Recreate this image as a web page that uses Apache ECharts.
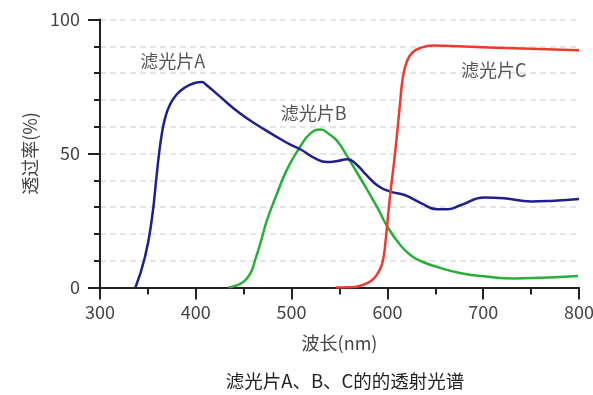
<!DOCTYPE html>
<html>
<head>
<meta charset="utf-8">
<script src="https://cdn.jsdelivr.net/npm/echarts@6/dist/echarts.min.js"></script>
<style>
  html, body { margin: 0; padding: 0; background: #fff; }
  #chart { width: 593px; height: 395px; }
</style>
</head>
<body>
<div id="chart"></div>
<script>
// Transmission spectra of filters A, B and C (wavelength in nm, transmittance in %)
const filterA_nm = [337, 347, 354, 359, 361.5, 364.4, 368, 373, 380, 389, 399, 406, 412, 425, 446, 467, 495, 510, 524, 537, 548, 558, 568, 578, 590, 603, 618, 635, 652, 662, 677, 701, 722, 750, 774, 800];
const filterA_T  = [0, 11.5, 25.2, 41.4, 49.5, 57, 63.3, 68.2, 72, 74.7, 76.3, 76.7, 75.3, 71.3, 65, 60, 54, 51.4, 48.3, 46.8, 47.2, 47.9, 45.8, 42, 38, 35.8, 34.5, 31.5, 29.2, 29.2, 30.8, 33.6, 33.3, 32.1, 32.4, 33];

const filterB_nm = [434, 441, 450, 457, 462, 467.4, 474.4, 484, 495, 509, 520, 530, 540, 548, 558, 568, 579, 590, 600, 612, 624, 636, 649, 677, 705, 732, 760, 780, 799];
const filterB_T  = [0, 0.6, 2.2, 5.3, 10.3, 16.5, 25.2, 34.3, 43.9, 52.6, 57.6, 59, 57, 54.5, 49, 43, 36.4, 29.5, 22.7, 16.5, 12.1, 9.7, 8, 5.3, 4, 3.4, 3.6, 3.9, 4.3];

const filterC_nm = [546, 560, 570, 580, 586, 591, 595, 598, 601, 604, 607, 610, 613, 616, 620, 626, 635, 648, 680, 732, 800];
const filterC_T  = [0, 0.1, 0.5, 1.8, 3.4, 6, 9.5, 17, 28, 38, 47, 57, 68, 78, 84, 87.6, 89.5, 90.3, 89.9, 89.3, 88.5];

// Curve name labels, anchored in data coordinates
const labelNames = ['滤光片A', '滤光片B', '滤光片C'];
const labelCoords = [[376, 84.3], [523, 65.2], [711, 81]];

const xTicks = { min: 300, max: 800, interval: 100 };
const yTicks = { min: 0, max: 100, interval: 50 };

const FONT = '"Noto Sans CJK SC", "Noto Sans", sans-serif';
const pair = (xs, ys) => xs.map((x, i) => [x, ys[i]]);

function nameMark(i) {
  return {
    symbol: 'circle',
    symbolSize: 0,
    silent: true,
    label: {
      show: true,
      position: 'inside',
      formatter: labelNames[i],
      color: '#555',
      fontSize: 18,
      fontFamily: FONT
    },
    data: [{ coord: labelCoords[i] }]
  };
}

const chart = echarts.init(document.getElementById('chart'));
chart.setOption({
  animation: false,
  backgroundColor: '#fff',
  title: {
    text: '滤光片A、B、C的的透射光谱',
    left: 340,
    textAlign: 'center',
    top: 367,
    textStyle: { fontSize: 18.5, fontWeight: 'normal', color: '#222', fontFamily: FONT }
  },
  grid: { left: 100, right: 14, top: 19.5, bottom: 107.5, outerBoundsMode: 'none', containLabel: false },
  xAxis: {
    type: 'value',
    min: xTicks.min, max: xTicks.max, interval: xTicks.interval,
    name: '波长(nm)',
    nameLocation: 'middle',
    nameGap: 47,
    nameTextStyle: { fontSize: 18, color: '#444', fontFamily: FONT },
    axisLine: { show: true, onZero: false, lineStyle: { color: '#222', width: 2 } },
    axisTick: { show: true, length: 12, lineStyle: { color: '#222', width: 2 } },
    minorTick: { show: true, splitNumber: 2, length: 7, lineStyle: { color: '#222', width: 2 } },
    axisLabel: { margin: 16, fontSize: 18, color: '#444', fontFamily: FONT },
    splitLine: { show: false }
  },
  yAxis: {
    type: 'value',
    min: yTicks.min, max: yTicks.max, interval: yTicks.interval,
    name: '透过率(%)',
    nameLocation: 'middle',
    nameRotate: 90,
    nameGap: 58,
    nameTextStyle: { fontSize: 18, color: '#444', fontFamily: FONT },
    axisLine: { show: true, lineStyle: { color: '#222', width: 2 } },
    axisTick: { show: true, length: 12, lineStyle: { color: '#222', width: 2 } },
    minorTick: { show: true, splitNumber: 5, length: 6, lineStyle: { color: '#222', width: 2 } },
    axisLabel: { margin: 20, fontSize: 18, color: '#444', fontFamily: FONT },
    splitLine: { show: true, lineStyle: { color: '#ddd', type: [6, 4], width: 1.5 } },
    minorSplitLine: { show: true, lineStyle: { color: '#ddd', type: [6, 4], width: 1.5 } }
  },
  series: [
    {
      name: '滤光片A', type: 'line', smooth: 0.5, symbol: 'none',
      data: pair(filterA_nm, filterA_T),
      lineStyle: { color: '#20208a', width: 2.5 },
      itemStyle: { color: '#20208a' },
      markPoint: nameMark(0),
      z: 3
    },
    {
      name: '滤光片B', type: 'line', smooth: 0.5, symbol: 'none',
      data: pair(filterB_nm, filterB_T),
      lineStyle: { color: '#2aae3a', width: 2.5 },
      itemStyle: { color: '#2aae3a' },
      markPoint: nameMark(1),
      z: 2
    },
    {
      name: '滤光片C', type: 'line', smooth: 0.5, symbol: 'none',
      data: pair(filterC_nm, filterC_T),
      lineStyle: { color: '#ee3a2c', width: 2.5 },
      itemStyle: { color: '#ee3a2c' },
      markPoint: nameMark(2),
      z: 4
    }
  ]
});
</script>
</body>
</html>
